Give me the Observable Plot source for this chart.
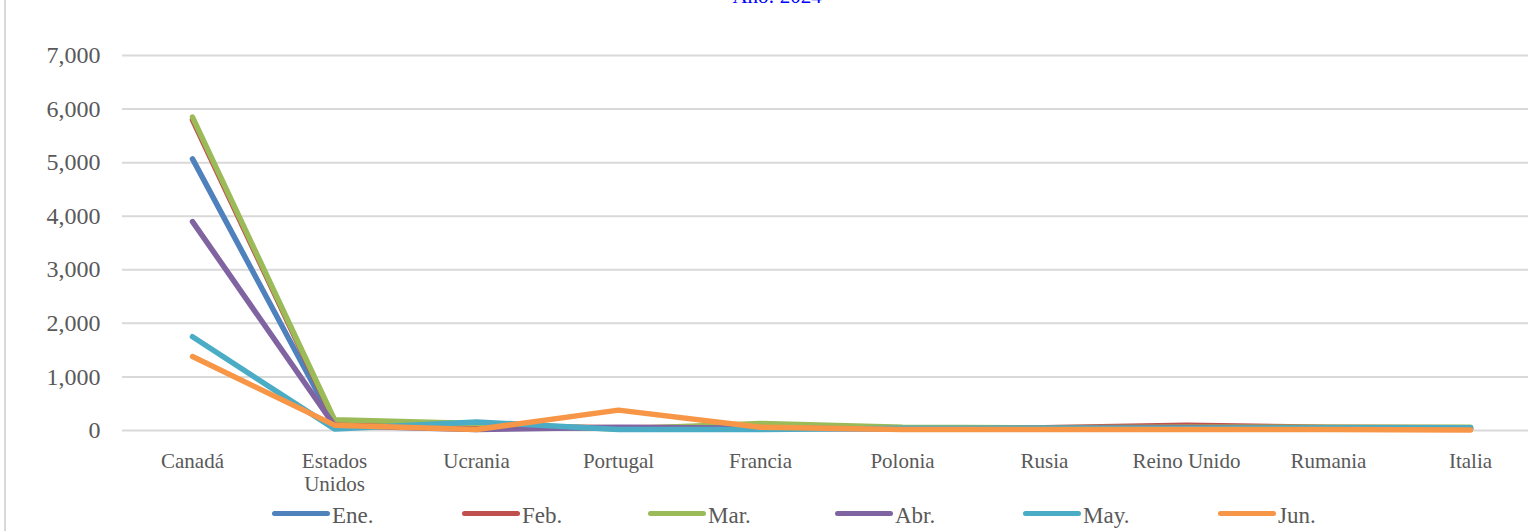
<!DOCTYPE html>
<html>
<head>
<meta charset="utf-8">
<script src="https://cdn.jsdelivr.net/npm/d3@7"></script>
<script src="https://cdn.jsdelivr.net/npm/@observablehq/plot@0.6"></script>
<style>
  html, body { margin: 0; padding: 0; background: #fff; overflow: hidden; }
  #wrap { position: relative; width: 1528px; height: 531px; overflow: hidden; font-family: "Liberation Serif", "Times New Roman", serif; }
  #border { position: absolute; left: 4px; top: 0; width: 2px; height: 531px; background: #d9d9d9; }
  #title { position: absolute; left: 0; width: 1554px; top: -14px; text-align: center; color: #0000ff; font-size: 21px; line-height: 21px; }
  #chart { position: absolute; left: 0; top: 0; }
  #legend { position: absolute; left: 0; top: 495px; width: 1528px; height: 36px; }
  .item { position: absolute; top: 0; height: 36px; }
  .sw { position: absolute; top: 16px; left: 0; width: 58px; height: 5px; border-radius: 3px; }
  .lb { position: absolute; top: 9px; left: 60px; font-size: 23px; line-height: 24px; color: #595959; white-space: nowrap; }
</style>
</head>
<body>
<div id="wrap">
  <div id="border"></div>
  <div id="chart"></div>
  <div id="title">Año: 2024</div>
  <div id="legend"></div>
</div>
<script>
const countries = ["Canadá","Estados Unidos","Ucrania","Portugal","Francia","Polonia","Rusia","Reino Unido","Rumania","Italia"];
const months = ["Ene.","Feb.","Mar.","Abr.","May.","Jun."];
const colors = ["#4F81BD","#C0504D","#9BBB59","#8064A2","#4BACC6","#F79646"];
const ene = [5070, 120, 60, 40, 50, 40, 40, 50, 40, 30];
const feb = [5800, 170, 90, 50, 70, 50, 50, 100, 60, 50];
const mar = [5850, 200, 130, 30, 130, 60, 50, 60, 60, 60];
const abr = [3900, 90, 20, 60, 40, 30, 40, 50, 40, 30];
const may = [1750, 30, 160, 20, 20, 40, 40, 40, 50, 50];
const jun = [1380, 100, 20, 380, 60, 20, 20, 20, 20, 10];
const yTicks = [0, 1000, 2000, 3000, 4000, 5000, 6000, 7000];

const seriesValues = [ene, feb, mar, abr, may, jun];
const data = [];
months.forEach((m, i) => countries.forEach((c, j) => data.push({mes: m, pais: c, valor: seriesValues[i][j]})));

const chart = Plot.plot({
  width: 1528,
  height: 495,
  marginLeft: 122,
  marginRight: 0,
  marginTop: 55,
  marginBottom: 65,
  style: {fontFamily: "'Liberation Serif', 'Times New Roman', serif", background: "transparent", color: "#595959"},
  x: {type: "point", domain: countries, range: [191, 1471], padding: 0, label: null},
  y: {domain: [0, 7000], label: null},
  color: {domain: months, range: colors},
  marks: [
    Plot.ruleY(yTicks, {stroke: "#d9d9d9", strokeWidth: 2}),
    Plot.axisY({ticks: yTicks, tickSize: 0, tickPadding: 22, fontSize: 24, tickFormat: d3.format(","), label: null}),
    Plot.axisX({tickSize: 0, tickPadding: 21, fontSize: 21, lineHeight: 1.1, label: null,
      tickFormat: d => d === "Estados Unidos" ? "Estados\nUnidos" : d}),
    Plot.line(data, {x: "pais", y: "valor", z: "mes", stroke: "mes", strokeWidth: 5.5, strokeLinecap: "round", strokeLinejoin: "round"})
  ]
});
document.getElementById("chart").appendChild(chart);

const legend = document.getElementById("legend");
const lx = [272, 462, 648, 835, 1023, 1218];
months.forEach((m, i) => {
  const it = document.createElement("div");
  it.className = "item";
  it.style.left = lx[i] + "px";
  it.innerHTML = `<div class="sw" style="background:${colors[i]}"></div><div class="lb">${m}</div>`;
  legend.appendChild(it);
});
</script>
</body>
</html>
